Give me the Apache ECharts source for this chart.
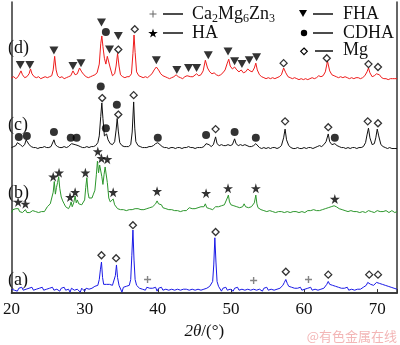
<!DOCTYPE html>
<html><head><meta charset="utf-8">
<script src="https://cdn.jsdelivr.net/npm/echarts@6/dist/echarts.min.js"></script>
<style>html,body{margin:0;padding:0;background:#fff}#c{width:400px;height:345px}</style>
</head><body><div id="c"></div>
<script>
// ---- data: [2θ (deg), intensity above own baseline (arb.)] ----
const traceLabels = ['(a)', '(b)', '(c)', '(d)'];
const offsets = { a: 4, b: 84, c: 150, d: 222 };
const xTicks = [20, 30, 40, 50, 60, 70];

const traceD = [[20.0,0],[20.3,1],[20.6,-1],[20.9,1],[21.1,3],[21.3,7],[21.5,3],[21.8,0],[22.1,1],[22.4,4],[22.6,9],[22.8,4],[23.1,1],[23.4,0],[23.7,1],[24.0,-1],[24.3,0],[24.6,1],[24.9,0],[25.2,1],[25.5,2],[25.7,8],[25.9,22],[26.1,8],[26.3,2],[26.6,0],[26.9,1],[27.2,-1],[27.5,0],[27.8,1],[28.1,2],[28.4,7],[28.7,3],[29.0,4],[29.3,10],[29.6,6],[29.9,3],[30.2,1],[30.5,0],[30.8,1],[31.1,2],[31.4,3],[31.7,5],[32.0,14],[32.2,35],[32.35,43],[32.5,32],[32.7,20],[32.9,14],[33.1,22],[33.25,23],[33.5,10],[33.8,2],[34.1,4],[34.3,12],[34.5,25],[34.7,12],[34.9,3],[35.2,1],[35.5,0],[35.8,1],[36.1,1],[36.4,4],[36.6,25],[36.75,44],[36.9,26],[37.1,6],[37.4,2],[37.7,1],[38.0,0],[38.3,1],[38.6,0],[38.9,2],[39.2,4],[39.5,8],[39.8,11],[40.1,8],[40.4,4],[40.7,2],[41.0,1],[41.3,0],[41.6,-1],[41.9,0],[42.2,1],[42.5,3],[42.8,1],[43.1,0],[43.4,-1],[43.7,1],[44.0,2],[44.2,3],[44.5,1],[44.8,1],[45.0,2],[45.3,4],[45.6,2],[45.9,3],[46.2,7],[46.5,18],[46.8,10],[47.1,6],[47.4,4],[47.7,5],[48.0,3],[48.3,2],[48.6,3],[48.9,5],[49.2,8],[49.5,15],[49.7,19],[49.9,12],[50.2,9],[50.5,11],[50.8,8],[51.1,6],[51.4,8],[51.7,5],[52.0,6],[52.3,9],[52.6,7],[52.9,6],[53.2,10],[53.4,15],[53.6,8],[53.9,3],[54.2,1],[54.5,0],[54.8,-1],[55.1,0],[55.4,-1],[55.7,0],[56.0,-1],[56.3,0],[56.6,1],[56.9,3],[57.2,10],[57.5,5],[57.8,1],[58.1,0],[58.4,-1],[58.7,0],[59.0,-1],[59.3,-2],[59.6,-1],[59.9,-2],[60.2,-1],[60.5,-2],[60.8,-1],[61.1,0],[61.4,-1],[61.7,0],[62.0,2],[62.3,1],[62.6,2],[62.9,6],[63.2,17],[63.5,7],[63.8,3],[64.1,2],[64.4,1],[64.7,0],[65.0,1],[65.3,0],[65.6,1],[65.9,0],[66.2,-1],[66.5,0],[66.8,-1],[67.1,0],[67.4,0],[67.7,-1],[68.0,0],[68.3,2],[68.6,6],[68.8,10],[69.0,5],[69.3,1],[69.6,2],[69.9,4],[70.1,6],[70.3,3],[70.6,0],[70.9,-1],[71.2,-1],[71.5,-2],[71.8,-1],[72.1,-1],[72.4,-1],[72.7,-1]];

const traceC = [[20.0,0],[20.3,1],[20.6,2],[20.8,5],[21.0,7],[21.2,3],[21.5,1],[21.8,3],[22.0,8],[22.15,9],[22.4,3],[22.7,1],[23.0,0],[23.3,0],[23.6,-1],[23.9,0],[24.2,0],[24.5,1],[24.8,0],[25.1,0],[25.4,1],[25.6,3],[25.8,8],[26.0,3],[26.3,1],[26.6,0],[26.9,0],[27.2,1],[27.5,0],[27.8,1],[28.0,2],[28.2,4],[28.4,2],[28.7,3],[28.9,5],[29.1,2],[29.4,1],[29.7,0],[30.0,0],[30.3,1],[30.6,0],[30.9,1],[31.2,1],[31.5,2],[31.8,5],[32.0,12],[32.2,32],[32.35,46],[32.5,30],[32.7,12],[32.85,13],[33.0,14],[33.2,8],[33.5,4],[33.8,3],[34.1,6],[34.3,18],[34.45,30],[34.6,17],[34.8,5],[35.1,2],[35.4,1],[35.7,1],[36.0,1],[36.3,3],[36.5,16],[36.7,47],[36.85,20],[37.0,6],[37.3,2],[37.6,1],[37.9,0],[38.2,0],[38.5,0],[38.8,1],[39.1,1],[39.4,2],[39.7,4],[40.0,5],[40.3,3],[40.6,1],[40.9,0],[41.2,0],[41.5,-1],[41.8,0],[42.1,0],[42.4,-1],[42.7,0],[43.0,0],[43.3,-1],[43.6,0],[43.9,0],[44.2,1],[44.5,0],[44.8,0],[45.1,-1],[45.4,0],[45.7,0],[46.0,0],[46.3,1],[46.6,4],[46.8,6],[47.0,3],[47.3,1],[47.6,3],[47.9,11],[48.1,4],[48.4,2],[48.7,3],[49.0,2],[49.3,2],[49.6,3],[49.9,2],[50.2,3],[50.5,9],[50.7,4],[51.0,2],[51.3,3],[51.6,2],[51.9,3],[52.2,2],[52.5,1],[52.8,1],[53.1,2],[53.4,4],[53.6,2],[53.9,0],[54.2,-1],[54.5,0],[54.8,-1],[55.1,0],[55.4,-1],[55.7,0],[56.0,0],[56.3,-1],[56.6,0],[56.9,2],[57.2,10],[57.4,19],[57.6,8],[57.9,2],[58.2,0],[58.5,-1],[58.8,-1],[59.1,0],[59.4,-1],[59.7,-1],[60.0,0],[60.3,-1],[60.6,0],[60.9,0],[61.2,-1],[61.5,0],[61.8,1],[62.1,2],[62.4,1],[62.7,3],[63.0,6],[63.3,14],[63.5,6],[63.8,3],[64.0,3],[64.2,4],[64.5,2],[64.8,1],[65.1,0],[65.4,0],[65.7,-1],[66.0,0],[66.3,-1],[66.6,0],[66.9,0],[67.2,-1],[67.5,0],[67.8,0],[68.1,1],[68.4,5],[68.6,13],[68.8,20],[69.0,10],[69.3,3],[69.6,4],[69.8,10],[70.0,19],[70.2,12],[70.5,3],[70.8,1],[71.1,0],[71.4,-1],[71.7,0],[72.0,-1],[72.3,-1],[72.7,-1]];

const traceB = [[20.0,-1],[20.2,2],[20.4,0],[20.6,3],[20.8,1],[20.95,3],[21.1,0],[21.3,2],[21.5,-1],[21.7,1],[21.9,2],[22.1,-1],[22.3,1],[22.5,-1],[22.7,0],[22.9,1],[23.1,-1],[23.3,0],[23.5,1],[23.7,-1],[23.9,1],[24.1,0],[24.3,1],[24.5,0],[24.7,2],[24.9,5],[25.1,4],[25.3,8],[25.5,10],[25.7,20],[25.85,31],[26.0,18],[26.15,25],[26.3,30],[26.45,36],[26.6,24],[26.8,15],[27.0,11],[27.2,8],[27.4,5],[27.6,4],[27.8,3],[28.0,6],[28.15,10],[28.3,5],[28.5,9],[28.7,16],[28.85,9],[29.0,12],[29.2,8],[29.4,10],[29.6,7],[29.8,9],[30.0,12],[30.15,25],[30.3,35],[30.45,20],[30.6,14],[30.8,12],[31.0,14],[31.2,18],[31.4,22],[31.6,38],[31.75,52],[31.9,40],[32.05,48],[32.2,46],[32.35,36],[32.5,28],[32.65,38],[32.8,46],[32.95,44],[33.1,30],[33.3,14],[33.5,10],[33.7,9],[33.9,13],[34.1,7],[34.3,5],[34.5,3],[34.7,4],[34.9,2],[35.1,4],[35.3,2],[35.5,3],[35.7,1],[35.9,3],[36.1,2],[36.3,4],[36.5,2],[36.7,4],[36.9,3],[37.1,5],[37.3,3],[37.5,4],[37.7,2],[37.9,3],[38.1,2],[38.3,4],[38.5,3],[38.7,5],[38.9,4],[39.1,3],[39.3,5],[39.5,7],[39.7,8],[39.9,11],[40.1,8],[40.3,6],[40.5,7],[40.7,4],[40.9,5],[41.1,3],[41.3,5],[41.5,2],[41.7,4],[41.9,2],[42.1,3],[42.3,1],[42.5,3],[42.7,1],[42.9,2],[43.1,0],[43.3,2],[43.5,1],[43.7,3],[43.9,1],[44.1,2],[44.3,4],[44.5,2],[44.7,3],[44.9,1],[45.1,3],[45.3,2],[45.5,4],[45.7,2],[45.9,5],[46.1,3],[46.3,5],[46.5,8],[46.7,4],[46.9,6],[47.1,3],[47.3,5],[47.5,2],[47.7,4],[47.9,5],[48.1,3],[48.3,5],[48.5,4],[48.7,6],[48.9,5],[49.1,7],[49.3,9],[49.5,14],[49.65,17],[49.8,10],[50.0,7],[50.2,9],[50.4,6],[50.6,8],[50.8,5],[51.0,7],[51.2,4],[51.4,6],[51.6,5],[51.8,8],[52.0,5],[52.2,6],[52.4,4],[52.6,6],[52.8,5],[53.0,7],[53.2,9],[53.4,17],[53.55,8],[53.7,4],[53.9,3],[54.1,2],[54.3,3],[54.5,1],[54.7,2],[54.9,0],[55.1,2],[55.3,1],[55.5,2],[55.7,0],[55.9,1],[56.1,-1],[56.3,1],[56.5,0],[56.7,2],[56.9,0],[57.1,1],[57.3,-1],[57.5,1],[57.7,0],[57.9,1],[58.1,-1],[58.3,1],[58.5,0],[58.7,2],[58.9,0],[59.1,1],[59.3,-1],[59.5,1],[59.7,0],[59.9,1],[60.1,-1],[60.3,0],[60.5,1],[60.7,-1],[60.9,1],[61.1,0],[61.3,2],[61.5,0],[61.7,1],[61.9,-1],[62.1,1],[62.3,0],[62.5,2],[62.7,1],[62.9,3],[63.1,2],[63.3,4],[63.5,3],[63.7,5],[63.9,4],[64.1,6],[64.25,8],[64.4,5],[64.6,6],[64.8,3],[65.0,4],[65.2,2],[65.4,3],[65.6,1],[65.8,2],[66.0,0],[66.2,2],[66.4,1],[66.6,2],[66.8,0],[67.0,1],[67.2,0],[67.4,1],[67.6,-1],[67.8,1],[68.0,0],[68.2,1],[68.4,-1],[68.6,0],[68.8,1],[69.0,-1],[69.2,0],[69.4,1],[69.6,-1],[69.8,0],[70.0,1],[70.2,-1],[70.4,0],[70.6,1],[70.8,0],[71.0,-1],[71.2,1],[71.4,0],[71.6,-1],[71.8,0],[72.0,1],[72.2,0],[72.4,-1],[72.7,0]];

const traceA = [[20.0,0],[20.2,2],[20.4,-1],[20.6,1],[20.8,-2],[21.0,1],[21.2,0],[21.4,2],[21.6,-1],[21.8,1],[22.0,0],[22.2,-2],[22.4,1],[22.6,0],[22.8,2],[23.0,-1],[23.2,1],[23.4,0],[23.6,-2],[23.8,1],[24.0,0],[24.2,2],[24.4,-1],[24.6,1],[24.8,0],[25.0,-2],[25.2,1],[25.4,0],[25.6,2],[25.8,-1],[26.0,1],[26.2,0],[26.4,1],[26.6,-2],[26.8,1],[27.0,0],[27.2,2],[27.4,-1],[27.6,1],[27.8,0],[28.0,-3],[28.2,1],[28.4,2],[28.6,-1],[28.8,1],[29.0,0],[29.2,2],[29.4,-3],[29.6,1],[29.8,0],[30.0,-2],[30.2,1],[30.4,2],[30.6,0],[30.8,-2],[31.0,1],[31.2,2],[31.4,3],[31.6,2],[31.8,4],[32.0,10],[32.15,20],[32.3,28],[32.45,12],[32.6,5],[32.8,4],[33.0,5],[33.2,3],[33.4,5],[33.6,3],[33.8,4],[34.0,6],[34.2,14],[34.35,25],[34.5,12],[34.7,4],[34.9,2],[35.1,-3],[35.3,2],[35.5,1],[35.7,3],[35.9,2],[36.1,4],[36.3,10],[36.45,35],[36.6,61],[36.75,30],[36.9,10],[37.1,4],[37.3,3],[37.5,1],[37.7,2],[37.9,0],[38.1,1],[38.3,-1],[38.5,2],[38.7,0],[38.9,1],[39.1,-1],[39.3,1],[39.5,0],[39.7,2],[39.9,-2],[40.1,1],[40.3,0],[40.5,2],[40.7,-1],[40.9,1],[41.1,0],[41.3,1],[41.5,-1],[41.7,1],[41.9,0],[42.1,2],[42.3,-1],[42.5,1],[42.7,0],[42.9,1],[43.1,-1],[43.3,1],[43.5,0],[43.7,2],[43.9,0],[44.1,1],[44.3,-1],[44.5,1],[44.7,0],[44.9,2],[45.1,-1],[45.3,1],[45.5,0],[45.7,1],[45.9,-1],[46.1,1],[46.3,0],[46.5,2],[46.7,1],[46.9,2],[47.1,3],[47.3,4],[47.5,8],[47.65,25],[47.8,53],[47.95,28],[48.1,8],[48.3,3],[48.5,1],[48.7,-2],[48.9,1],[49.1,0],[49.3,2],[49.5,-1],[49.7,1],[49.9,0],[50.1,1],[50.3,-2],[50.5,1],[50.7,0],[50.9,2],[51.1,-1],[51.3,1],[51.5,0],[51.7,1],[51.9,-1],[52.1,1],[52.3,0],[52.5,2],[52.7,-1],[52.9,1],[53.1,0],[53.3,2],[53.5,-1],[53.7,1],[53.9,0],[54.1,1],[54.3,-2],[54.5,1],[54.7,0],[54.9,2],[55.1,-1],[55.3,1],[55.5,0],[55.7,1],[55.9,-1],[56.1,1],[56.3,0],[56.5,2],[56.7,1],[56.9,2],[57.1,4],[57.3,7],[57.5,10],[57.7,6],[57.9,3],[58.1,1],[58.3,2],[58.5,0],[58.7,1],[58.9,-1],[59.1,1],[59.3,0],[59.5,2],[59.7,-1],[59.9,1],[60.1,0],[60.3,-2],[60.5,1],[60.7,0],[60.9,2],[61.1,-1],[61.3,1],[61.5,0],[61.7,1],[61.9,-1],[62.1,1],[62.3,0],[62.5,2],[62.7,1],[62.9,3],[63.1,5],[63.3,8],[63.5,5],[63.7,3],[63.9,4],[64.1,2],[64.3,3],[64.5,1],[64.7,2],[64.9,0],[65.1,1],[65.3,-1],[65.5,1],[65.7,0],[65.9,2],[66.1,-1],[66.3,1],[66.5,0],[66.7,1],[66.9,-1],[67.1,1],[67.3,0],[67.5,2],[67.7,0],[67.9,1],[68.1,2],[68.3,3],[68.5,4],[68.7,7],[68.9,9],[69.1,5],[69.3,3],[69.5,4],[69.7,5],[69.9,7],[70.1,9],[70.3,6],[70.5,4],[70.7,5],[70.9,3],[71.1,4],[71.3,2],[71.5,3],[71.7,1],[71.9,2],[72.1,0],[72.3,1],[72.5,-1],[72.7,0]];

// phase markers: [2θ, height above own trace baseline]
const fhaD  = [[21.2,13],[22.5,13],[25.8,28],[28.4,12],[29.5,15],[32.3,57],[33.4,29],[34.6,43],[39.8,18],[42.6,8],[44.2,10],[45.3,10],[46.9,23],[49.6,27],[50.5,17],[51.5,14],[52.5,18],[53.5,21]];
const cdhaD = [[32.9,47]];
const mgD   = [[34.6,29],[36.85,50],[57.2,15],[63.1,20],[68.8,14],[70.1,11]];
const cdhaC = [[21.0,11],[22.1,12],[25.8,16],[28.1,10],[28.9,10],[32.2,63],[32.9,20],[34.4,44],[40.0,10],[46.6,13],[50.5,16],[53.4,10],[64.2,10]];
const mgC   = [[32.4,51],[34.6,34],[36.7,54],[47.9,19],[57.4,27],[63.3,21],[68.7,27],[70.1,25]];
const haB   = [[20.9,10],[21.9,8],[25.7,36],[26.5,40],[28.0,15],[28.7,20],[30.1,40],[31.8,62],[32.3,55],[33.1,54],[33.9,20],[39.9,21],[46.6,19],[49.6,24],[53.4,24],[64.2,13]];
const mgA   = [[32.3,35],[34.3,32],[36.6,66],[47.9,59],[57.5,18],[63.3,15],[68.9,15],[70.1,15]];
const ca2A  = [[38.6,10],[53.1,9],[60.6,10]];

// ---- build ----
const shift = (arr, off) => arr.map(p => [p[0], p[1] + off]);
const FONT = '"Liberation Serif", "Times New Roman", serif';
const STAR = 'path://M50,0 L61,35 L98,35 L68,57 L79,91 L50,70 L21,91 L32,57 L2,35 L39,35 Z';
const PLUS = 'path://M4,0 H6 V4 H10 V6 H6 V10 H4 V6 H0 V4 H4 Z';

function lineS(data, off, color) {
  return { type: 'line', data: shift(data, off), showSymbol: false, symbol: 'none',
    lineStyle: { color, width: 1 }, silent: true, z: 2 };
}
function scat(data, symbol, size, style, rotate) {
  return { type: 'scatter', data, symbol, symbolSize: size, symbolRotate: rotate || 0,
    itemStyle: style, silent: true, z: 5 };
}
const txt = (x, y, text, extra) => ({ type: 'text', x, y,
  style: Object.assign({ text, font: '18px ' + FONT, fill: '#111', verticalAlign: 'middle' }, extra || {}) });
const seg = (x1, y1, x2, y2, color, w) => ({ type: 'line', shape: { x1, y1, x2, y2 }, style: { stroke: color || '#111', lineWidth: w || 1.5 } });

const chart = echarts.init(document.getElementById('c'), null, { renderer: 'canvas' });
chart.setOption({
  animation: false,
  backgroundColor: '#fff',
  grid: { left: 5, right: 2, top: 2, bottom: 43 },
  xAxis: [{
    type: 'value', min: 20, max: 72.7, interval: 10,
    axisLine: { lineStyle: { color: '#333', width: 1.5 } },
    axisTick: { inside: true, length: 4, lineStyle: { color: '#333' } },
    axisLabel: { color: '#111', fontFamily: FONT, fontSize: 17, margin: 8,
      formatter: v => xTicks.includes(v) ? String(v) : '' },
    splitLine: { show: false },
    name: '{i|2θ}/(°)', nameLocation: 'middle', nameGap: 29,
    nameTextStyle: { color: '#111', fontFamily: FONT, fontSize: 17,
      rich: { i: { fontStyle: 'italic', fontFamily: FONT, fontSize: 17, color: '#111' } } }
  }, {
    type: 'value', position: 'top', min: 20, max: 72.7,
    axisLine: { show: true, lineStyle: { color: '#333', width: 1.5 } },
    axisTick: { show: false }, axisLabel: { show: false }, splitLine: { show: false }
  }],
  yAxis: [{
    type: 'value', min: 0, max: 300,
    axisLine: { show: true, lineStyle: { color: '#333', width: 1.5 } },
    axisTick: { show: false }, axisLabel: { show: false }, splitLine: { show: false }
  }, {
    type: 'value', position: 'right', min: 0, max: 300,
    axisLine: { show: true, lineStyle: { color: '#333', width: 1.5 } },
    axisTick: { show: false }, axisLabel: { show: false }, splitLine: { show: false }
  }],
  series: [
    lineS(traceD, offsets.d, '#ee1c1c'),
    lineS(traceC, offsets.c, '#111111'),
    lineS(traceB, offsets.b, '#2c962c'),
    lineS(traceA, offsets.a, '#1a1ae6'),
    scat(shift(fhaD, offsets.d), 'triangle', [9, 8], { color: '#000' }, 180),
    scat(shift(cdhaD, offsets.d).concat(shift(cdhaC, offsets.c)), 'circle', 8, { color: '#000' }),
    scat(shift(mgD, offsets.d).concat(shift(mgC, offsets.c), shift(mgA, offsets.a)), 'diamond', [7, 7],
      { color: '#fff', borderColor: '#000', borderWidth: 1.3 }),
    scat(shift(haB, offsets.b), STAR, 10, { color: '#000' }),
    scat(shift(ca2A, offsets.a), PLUS, 7, { color: '#666' })
  ],
  graphic: [
    // trace labels
    txt(8, 48, traceLabels[3]),
    txt(8, 125, traceLabels[2]),
    txt(8, 193, traceLabels[1]),
    txt(8, 280, traceLabels[0]),
    // legend column 1
    seg(149.5, 14, 156.5, 14, '#666', 1),
    seg(153, 10.5, 153, 17.5, '#666', 1),
    seg(163, 14, 183, 14),
    { type: 'text', x: 192, y: 14, style: { text: '{n|Ca}{s|2}{n|Mg}{s|6}{n|Zn}{s|3}', verticalAlign: 'middle', fill: '#111',
        rich: { n: { font: '18px ' + FONT, fill: '#111', lineHeight: 22, verticalAlign: 'middle' },
                s: { font: '12px ' + FONT, fill: '#111', lineHeight: 12, verticalAlign: 'bottom' } } } },
    { type: 'polygon', shape: { points: [[153,28.5],[154.1,32],[157.8,32],[154.8,34.2],[155.9,37.6],[153,35.5],[150.1,37.6],[151.2,34.2],[148.2,32],[151.9,32]] }, style: { fill: '#000' } },
    seg(163, 33, 183, 33),
    txt(192, 33, 'HA'),
    // legend column 2
    { type: 'polygon', shape: { points: [[299, 10], [307, 10], [303, 17]] }, style: { fill: '#000' } },
    seg(313, 14, 333, 14),
    txt(343, 14, 'FHA'),
    { type: 'circle', shape: { cx: 304, cy: 33, r: 3.2 }, style: { fill: '#000' } },
    seg(313, 33, 333, 33),
    txt(343, 33, 'CDHA'),
    { type: 'polygon', shape: { points: [[304, 48], [307.3, 51.3], [304, 54.6], [300.7, 51.3]] }, style: { fill: '#fff', stroke: '#000', lineWidth: 1.2 } },
    seg(315, 51, 333, 51),
    txt(343, 50, 'Mg'),
    // watermark
    { type: 'text', right: 3, top: 330, style: { text: '@有色金属在线', font: '13px "Noto Sans CJK SC"', fill: '#f3b6b6' } }
  ]
});
</script></body></html>
